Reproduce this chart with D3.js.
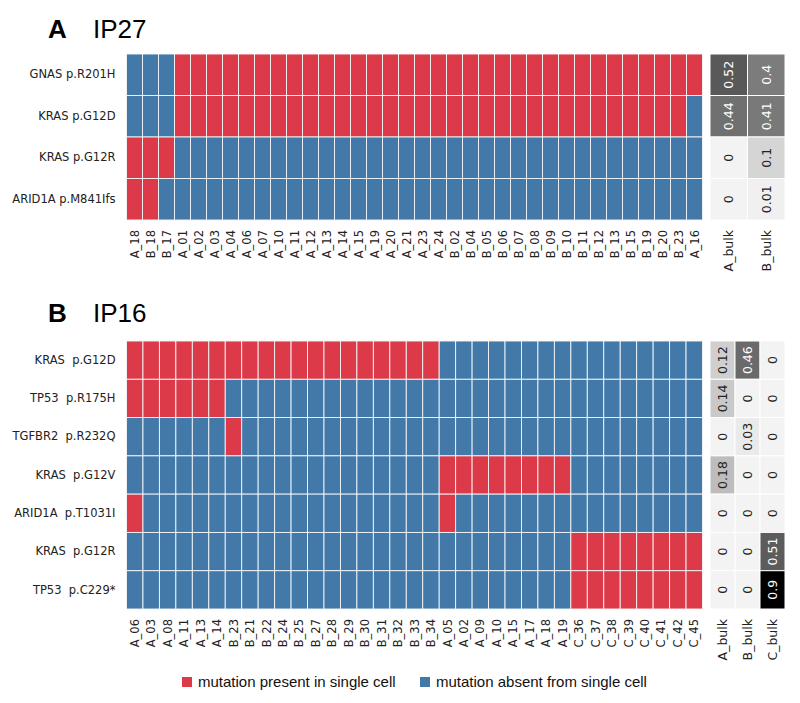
<!DOCTYPE html>
<html>
<head>
<meta charset="utf-8">
<script src="https://cdn.jsdelivr.net/npm/d3@7"></script>
<style>
  body { margin: 0; background: #fff; }
  .tick text { font-family: "DejaVu Sans", sans-serif; font-size: 11.5px; fill: #222; white-space: pre; }
  .bulkax .tick text { font-size: 12.5px; }
</style>
</head>
<body>
<svg id="chart" width="800" height="703"></svg>
<script>
// ---- data: IP27
var cellsA = ["A_18","B_18","B_17","A_01","A_02","A_03","A_04","A_06","A_07","A_10","A_11","A_12",
  "A_13","A_14","A_15","A_19","A_20","A_21","A_23","A_24","B_02","B_04","B_05","B_06","B_07","B_08",
  "B_09","B_10","B_11","B_12","B_13","B_15","B_19","B_20","B_23","A_16"];
var genesA = ["GNAS p.R201H", "KRAS p.G12D", "KRAS p.G12R", "ARID1A p.M841Ifs"];
var mutA = [
  [0,0,0,1,1,1,1,1,1,1,1,1,1,1,1,1,1,1,1,1,1,1,1,1,1,1,1,1,1,1,1,1,1,1,1,1],
  [0,0,0,1,1,1,1,1,1,1,1,1,1,1,1,1,1,1,1,1,1,1,1,1,1,1,1,1,1,1,1,1,1,1,1,0],
  [1,1,1,0,0,0,0,0,0,0,0,0,0,0,0,0,0,0,0,0,0,0,0,0,0,0,0,0,0,0,0,0,0,0,0,0],
  [1,1,0,0,0,0,0,0,0,0,0,0,0,0,0,0,0,0,0,0,0,0,0,0,0,0,0,0,0,0,0,0,0,0,0,0]
];
var bulkColsA = ["A_bulk", "B_bulk"];
var bulkA = [[0.52, 0.4], [0.44, 0.41], [0, 0.1], [0, 0.01]];

// ---- data: IP16
var cellsB = ["A_06","A_03","A_08","A_11","A_13","A_14","B_23","B_21","B_22","B_24","B_25","B_27",
  "B_28","B_29","B_30","B_31","B_32","B_33","B_34","A_05","A_02","A_09","A_10","A_15","A_17","A_18",
  "A_19","C_36","C_37","C_38","C_39","C_40","C_41","C_42","C_45"];
var genesB = ["KRAS  p.G12D", "TP53  p.R175H", "TGFBR2  p.R232Q", "KRAS  p.G12V",
  "ARID1A  p.T1031I", "KRAS  p.G12R", "TP53  p.C229*"];
var mutB = [
  [1,1,1,1,1,1,1,1,1,1,1,1,1,1,1,1,1,1,1,0,0,0,0,0,0,0,0,0,0,0,0,0,0,0,0],
  [1,1,1,1,1,1,0,0,0,0,0,0,0,0,0,0,0,0,0,0,0,0,0,0,0,0,0,0,0,0,0,0,0,0,0],
  [0,0,0,0,0,0,1,0,0,0,0,0,0,0,0,0,0,0,0,0,0,0,0,0,0,0,0,0,0,0,0,0,0,0,0],
  [0,0,0,0,0,0,0,0,0,0,0,0,0,0,0,0,0,0,0,1,1,1,1,1,1,1,1,0,0,0,0,0,0,0,0],
  [1,0,0,0,0,0,0,0,0,0,0,0,0,0,0,0,0,0,0,1,0,0,0,0,0,0,0,0,0,0,0,0,0,0,0],
  [0,0,0,0,0,0,0,0,0,0,0,0,0,0,0,0,0,0,0,0,0,0,0,0,0,0,0,1,1,1,1,1,1,1,1],
  [0,0,0,0,0,0,0,0,0,0,0,0,0,0,0,0,0,0,0,0,0,0,0,0,0,0,0,1,1,1,1,1,1,1,1]
];
var bulkColsB = ["A_bulk", "B_bulk", "C_bulk"];
var bulkB = [[0.12, 0.46, 0], [0.14, 0, 0], [0, 0.03, 0], [0.18, 0, 0],
  [0, 0, 0], [0, 0, 0.51], [0, 0, 0.9]];

var legendLabels = ["mutation present in single cell", "mutation absent from single cell"];

var RED = "#dc3a48", BLUE = "#4279a9";
var grey = d3.scaleLinear().domain([0, 0.5, 0.9]).range(["#f3f3f3", "#5e5e5e", "#000000"]);

var svg = d3.select("#chart");

//fn to draw one panel (heatmap + bulk column)
function panel(letter, name, cells, genes, mut, bulkCols, bulk, top, bottom, titleY) {
  var x = d3.scaleBand().domain(cells).range([126.5, 702.5]);
  var y = d3.scaleBand().domain(genes).range([top, bottom]);
  var xb = d3.scaleBand().domain(bulkCols).range([710, 785]);

  var g = svg.append("g");

  // title
  var t = g.append("text")
    .attr("x", 48).attr("y", titleY)
    .style("font-family", "'Liberation Sans', Arial, sans-serif")
    .style("font-size", "26px");
  t.append("tspan").style("font-weight", "bold").text(letter);
  t.append("tspan").attr("x", 93).text(name);

  // heatmap cells
  mut.forEach(function(row, i) {
    g.selectAll(null)
      .data(row)
      .enter()
      .append("rect")
      .attr("x", (d, j) => x(cells[j]))
      .attr("y", y(genes[i]))
      .attr("width", x.bandwidth())
      .attr("height", y.bandwidth())
      .attr("fill", d => d ? RED : BLUE)
      .attr("stroke", "#f4f6f9")
      .attr("stroke-width", 0.9);
  });

  // bulk cells
  bulk.forEach(function(row, i) {
    var cg = g.selectAll(null)
      .data(row)
      .enter()
      .append("g")
      .attr("transform", (d, j) => "translate(" + xb(bulkCols[j]) + "," + y(genes[i]) + ")");
    cg.append("rect")
      .attr("width", xb.bandwidth())
      .attr("height", y.bandwidth())
      .attr("fill", d => grey(d))
      .attr("stroke", "#fff")
      .attr("stroke-width", 1);
    cg.append("text")
      .attr("transform", "translate(" + xb.bandwidth() / 2 + "," + y.bandwidth() / 2 + ") rotate(-90)")
      .attr("text-anchor", "middle")
      .attr("dy", "0.36em")
      .style("font-family", "'DejaVu Sans', sans-serif")
      .style("font-size", "12.5px")
      .attr("fill", d => d > 0.3 ? "#fff" : "#222")
      .text(d => d);
  });

  // row labels
  var ay = g.append("g")
    .attr("transform", "translate(126.5,0)")
    .call(d3.axisLeft(y).tickSize(0).tickPadding(11));
  ay.select(".domain").remove();

  // column labels
  [[x, cells, "cellax"], [xb, bulkCols, "bulkax"]].forEach(function(p) {
    var ax = g.append("g")
      .attr("class", p[2])
      .attr("transform", "translate(0," + bottom + ")")
      .call(d3.axisBottom(p[0]).tickSize(0));
    ax.select(".domain").remove();
    ax.selectAll("text")
      .attr("transform", "rotate(-90)")
      .attr("text-anchor", "end")
      .attr("x", -10)
      .attr("y", 0)
      .attr("dy", "0.36em");
  });
}

panel("A", "IP27", cellsA, genesA, mutA, bulkColsA, bulkA, 54, 220, 38);
panel("B", "IP16", cellsB, genesB, mutB, bulkColsB, bulkB, 341, 609, 322);

// legend
var lx = d3.scaleOrdinal().domain(legendLabels).range([182, 420]);
var lc = d3.scaleOrdinal().domain(legendLabels).range([RED, BLUE]);
var lg = svg.selectAll(".leg")
  .data(legendLabels)
  .enter()
  .append("g")
  .attr("class", "leg")
  .attr("transform", d => "translate(" + lx(d) + ",677)");
lg.append("rect").attr("width", 10).attr("height", 10).attr("fill", d => lc(d));
lg.append("text")
  .attr("x", 16).attr("y", 10)
  .style("font-family", "'Liberation Sans', Arial, sans-serif")
  .style("font-size", "15px")
  .attr("fill", "#111")
  .text(d => d);
</script>
</body>
</html>
